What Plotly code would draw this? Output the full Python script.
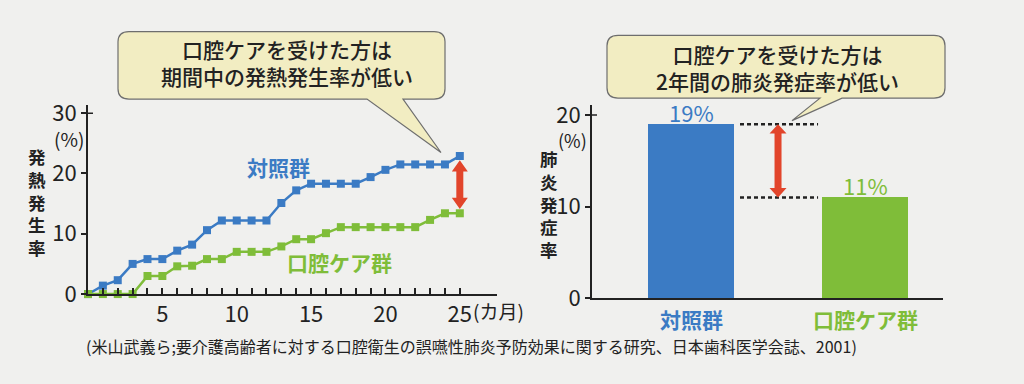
import plotly.graph_objects as go

# ---------------- data ----------------
months = list(range(0, 26))
control_fever = [0, 1.4, 2.3, 5.0, 5.8, 5.8, 7.2, 8.2, 10.6, 12.2, 12.2, 12.2, 12.2,
                 15.1, 17.2, 18.3, 18.3, 18.3, 18.3, 19.4, 20.6, 21.5, 21.5, 21.5, 21.5, 22.9]
oral_fever = [0, 0, 0, 0, 3.0, 3.0, 4.6, 4.7, 5.8, 5.8, 7.0, 7.0, 7.0,
              7.9, 9.1, 9.1, 10.1, 11.1, 11.1, 11.1, 11.1, 11.1, 11.1, 12.3, 13.4, 13.4]
bar_groups = ["対照群", "口腔ケア群"]
pneumonia = [19, 11]
pneumonia_labels = ["19%", "11%"]
left_yticks = [0, 10, 20, 30]
right_yticks = [0, 10, 20]
month_ticks = list(range(1, 26))
month_ticktext = [str(m) if m % 5 == 0 else "" for m in month_ticks]

# ---------------- style ----------------
W, H = 1024, 384
BLUE = "#3b7bc4"
GREEN = "#7fbd39"
RED = "#e2452b"
INK = "#222222"
BG = "#f0f0ee"
BUBBLE_FILL = "#f2edc2"
JP = "Noto Sans CJK JP, Noto Sans CJK SC, sans-serif"
NUM = "Liberation Sans Narrow, Arial Narrow, Noto Sans CJK JP, sans-serif"

def px(x):
    return x / W

def py(y):
    return 1 - y / H

# axes geometry (pixels)
L_X0, L_X1 = 88, 497
L_Y0, L_YTOP = 303, 101.7
L_XRANGE = [0, 27.5]
L_YRANGE = [0, 31.3]
R_X0, R_X1 = 592, 943
R_Y0, R_YTOP = 307.5, 101.7
R_XRANGE = [-0.569, 1.448]
R_YRANGE = [0, 21.05]

lkx = (L_X1 - L_X0) / (L_XRANGE[1] - L_XRANGE[0])
lky = (L_Y0 - L_YTOP) / (L_YRANGE[1] - L_YRANGE[0])
rkx = (R_X1 - R_X0) / (R_XRANGE[1] - R_XRANGE[0])
rky = (R_Y0 - R_YTOP) / (R_YRANGE[1] - R_YRANGE[0])

fig = go.Figure()

fig.add_trace(go.Scatter(
    x=months, y=control_fever, mode="lines+markers", xaxis="x", yaxis="y",
    line=dict(color=BLUE, width=2.5), marker=dict(symbol="square", size=8, color=BLUE),
    cliponaxis=False, showlegend=False, hoverinfo="skip"))
fig.add_trace(go.Scatter(
    x=months, y=oral_fever, mode="lines+markers", xaxis="x", yaxis="y",
    line=dict(color=GREEN, width=2.5), marker=dict(symbol="square", size=8, color=GREEN),
    cliponaxis=False, showlegend=False, hoverinfo="skip"))

bar_w = 0.494
fig.add_trace(go.Bar(
    x=[0, 1], y=pneumonia, width=bar_w, xaxis="x2", yaxis="y2",
    marker=dict(color=[BLUE, GREEN], line=dict(width=0)),
    showlegend=False, hoverinfo="skip"))

axis_common = dict(showgrid=False, zeroline=False, showline=True, linecolor=INK,
                   linewidth=2, fixedrange=True)

fig.update_layout(
    width=W, height=H, autosize=False,
    margin=dict(l=0, r=0, t=0, b=0),
    paper_bgcolor=BG, plot_bgcolor="rgba(0,0,0,0)",
    xaxis=dict(domain=[px(L_X0), px(L_X1)], range=L_XRANGE, anchor="y",
               tickvals=month_ticks, ticktext=month_ticktext, ticks="inside",
               ticklen=6, tickwidth=1.5, tickcolor=INK,
               tickfont=dict(family=NUM, size=22, color=INK), **axis_common),
    yaxis=dict(domain=[py(L_Y0), py(L_YTOP)], range=L_YRANGE, anchor="x",
               tickvals=left_yticks, ticks="outside", ticklen=5, tickwidth=1.5,
               tickcolor=INK, tickfont=dict(family=NUM, size=22, color=INK),
               **axis_common),
    xaxis2=dict(domain=[px(R_X0), px(R_X1)], range=R_XRANGE, anchor="y2",
                showticklabels=False, ticks="", **axis_common),
    yaxis2=dict(domain=[py(R_Y0), py(R_YTOP)], range=R_YRANGE, anchor="x2",
                tickvals=right_yticks, ticks="outside", ticklen=5, tickwidth=1.5,
                tickcolor=INK, tickfont=dict(family=NUM, size=22, color=INK),
                **axis_common),
    bargap=0,
)

# ---------------- shapes ----------------
def bubble_path(x0, y0, x1, y1, r, tb0, tb1, tipx, tipy):
    pts = [
        ("M", [(x0 + r, y0)]), ("L", [(x1 - r, y0)]), ("Q", [(x1, y0), (x1, y0 + r)]),
        ("L", [(x1, y1 - r)]), ("Q", [(x1, y1), (x1 - r, y1)]),
        ("L", [(tb1, y1)]), ("L", [(tipx, tipy)]), ("L", [(tb0, y1)]),
        ("L", [(x0 + r, y1)]), ("Q", [(x0, y1), (x0, y1 - r)]),
        ("L", [(x0, y0 + r)]), ("Q", [(x0, y0), (x0 + r, y0)]),
    ]
    s = ""
    for cmd, ps in pts:
        s += cmd + " " + " ".join(f"{px(a):.5f},{py(b):.5f}" for a, b in ps) + " "
    return s + "Z"

def arrow_path(xc, ytop, ybot, kx, ky, shaft=3.5, head=8, hl=11):
    ds, dh, dy = shaft / kx, head / kx, hl / ky
    p = [(xc, ytop), (xc + dh, ytop - dy), (xc + ds, ytop - dy), (xc + ds, ybot + dy),
         (xc + dh, ybot + dy), (xc, ybot), (xc - dh, ybot + dy), (xc - ds, ybot + dy),
         (xc - ds, ytop - dy), (xc - dh, ytop - dy)]
    return "M " + " L ".join(f"{a:.5f},{b:.5f}" for a, b in p) + " Z"

shapes = []
# small inward tick at the top value of each y axis
shapes.append(dict(type="line", xref="x", yref="y", x0=0, x1=5 / lkx,
                   y0=left_yticks[-1], y1=left_yticks[-1], line=dict(color=INK, width=1.5)))
shapes.append(dict(type="line", xref="x2", yref="y2", x0=R_XRANGE[0], x1=R_XRANGE[0] + 5 / rkx,
                   y0=right_yticks[-1], y1=right_yticks[-1], line=dict(color=INK, width=1.5)))
# left red arrow between final values
last = months[-1]
gap = 4.5 / lky
shapes.append(dict(type="path", xref="x", yref="y", layer="above",
                   path=arrow_path(last, control_fever[-1] - gap, oral_fever[-1] + gap,
                                   lkx, lky, shaft=3.5, head=8, hl=12),
                   fillcolor=RED, line=dict(width=0)))
# right dotted guide lines
dl0 = 0 + bar_w / 2 + 6 / rkx
dl1 = 1 - bar_w / 2 - 4 / rkx
for v in pneumonia:
    shapes.append(dict(type="line", xref="x2", yref="y2", x0=dl0, x1=dl1, y0=v, y1=v,
                       line=dict(color=INK, width=2.5, dash="4px,3px")))
shapes.append(dict(type="path", xref="x2", yref="y2", layer="above",
                   path=arrow_path(0.5, pneumonia[0], pneumonia[1], rkx, rky,
                                   shaft=3.5, head=8.5, hl=10),
                   fillcolor=RED, line=dict(width=0)))
# speech bubbles
shapes.append(dict(type="path", xref="paper", yref="paper", layer="above",
                   path=bubble_path(118, 23, 445, 95, 11, 367, 403, 441, 152),
                   fillcolor=BUBBLE_FILL, line=dict(color="#6e6e6e", width=1.2)))
shapes.append(dict(type="path", xref="paper", yref="paper", layer="above",
                   path=bubble_path(607, 27, 945, 94, 11, 820, 842, 792, 118),
                   fillcolor=BUBBLE_FILL, line=dict(color="#6e6e6e", width=1.2)))
fig.update_layout(shapes=shapes)

# ---------------- annotations ----------------
ann = []

def text(x, y, s, size, color=INK, family=JP, weight="normal", xanchor="center"):
    ann.append(dict(x=px(x), y=py(y), xref="paper", yref="paper", text=s, showarrow=False,
                    xanchor=xanchor, yanchor="middle",
                    font=dict(family=family, size=size, color=color, weight=weight)))

# bubble texts
text(287, 56, "口腔ケアを受けた方は<br>期間中の発熱発生率が低い", 21, weight=500)
text(777, 61, "口腔ケアを受けた方は<br>2年間の肺炎発症率が低い", 21, weight=500)

# units
text(69, 137, "(%)", 19, family=NUM)
text(572, 139, "(%)", 18, family=NUM)
text(471, 320, "(カ月)", 19, xanchor="left")

# vertical y-axis titles
text(37, 205, "<br>".join("発熱発生率"), 17.5, weight="bold")
text(549, 207, "<br>".join("肺炎発症率"), 17.5, weight="bold")

# series labels in line chart
text(278, 167, "対照群", 21, color=BLUE, weight="bold")
text(339, 269, "口腔ケア群", 21, color=GREEN, weight="bold")

# bar category labels (data-positioned)
for i, (g, c) in enumerate(zip(bar_groups, [BLUE, GREEN])):
    ann.append(dict(x=i, y=0, xref="x2", yref="y2", text=g, showarrow=False,
                    yanchor="top", yshift=-4,
                    font=dict(family=JP, size=21, color=c, weight="bold")))
# bar value labels
for i, (v, lab, c) in enumerate(zip(pneumonia, pneumonia_labels, [BLUE, GREEN])):
    ann.append(dict(x=i, y=v, xref="x2", yref="y2", text=lab, showarrow=False,
                    yanchor="middle", yshift=12,
                    font=dict(family=NUM, size=22, color=c)))

# source
text(471, 358, "(米山武義ら;要介護高齢者に対する口腔衛生の誤嚥性肺炎予防効果に関する研究、日本歯科医学会誌、2001)",
     16, color=INK)

fig.update_layout(annotations=ann)

fig.write_html("out.html", config={"displayModeBar": False},
               post_script="document.body.style.margin='0';document.body.style.background='%s';" % BG)
